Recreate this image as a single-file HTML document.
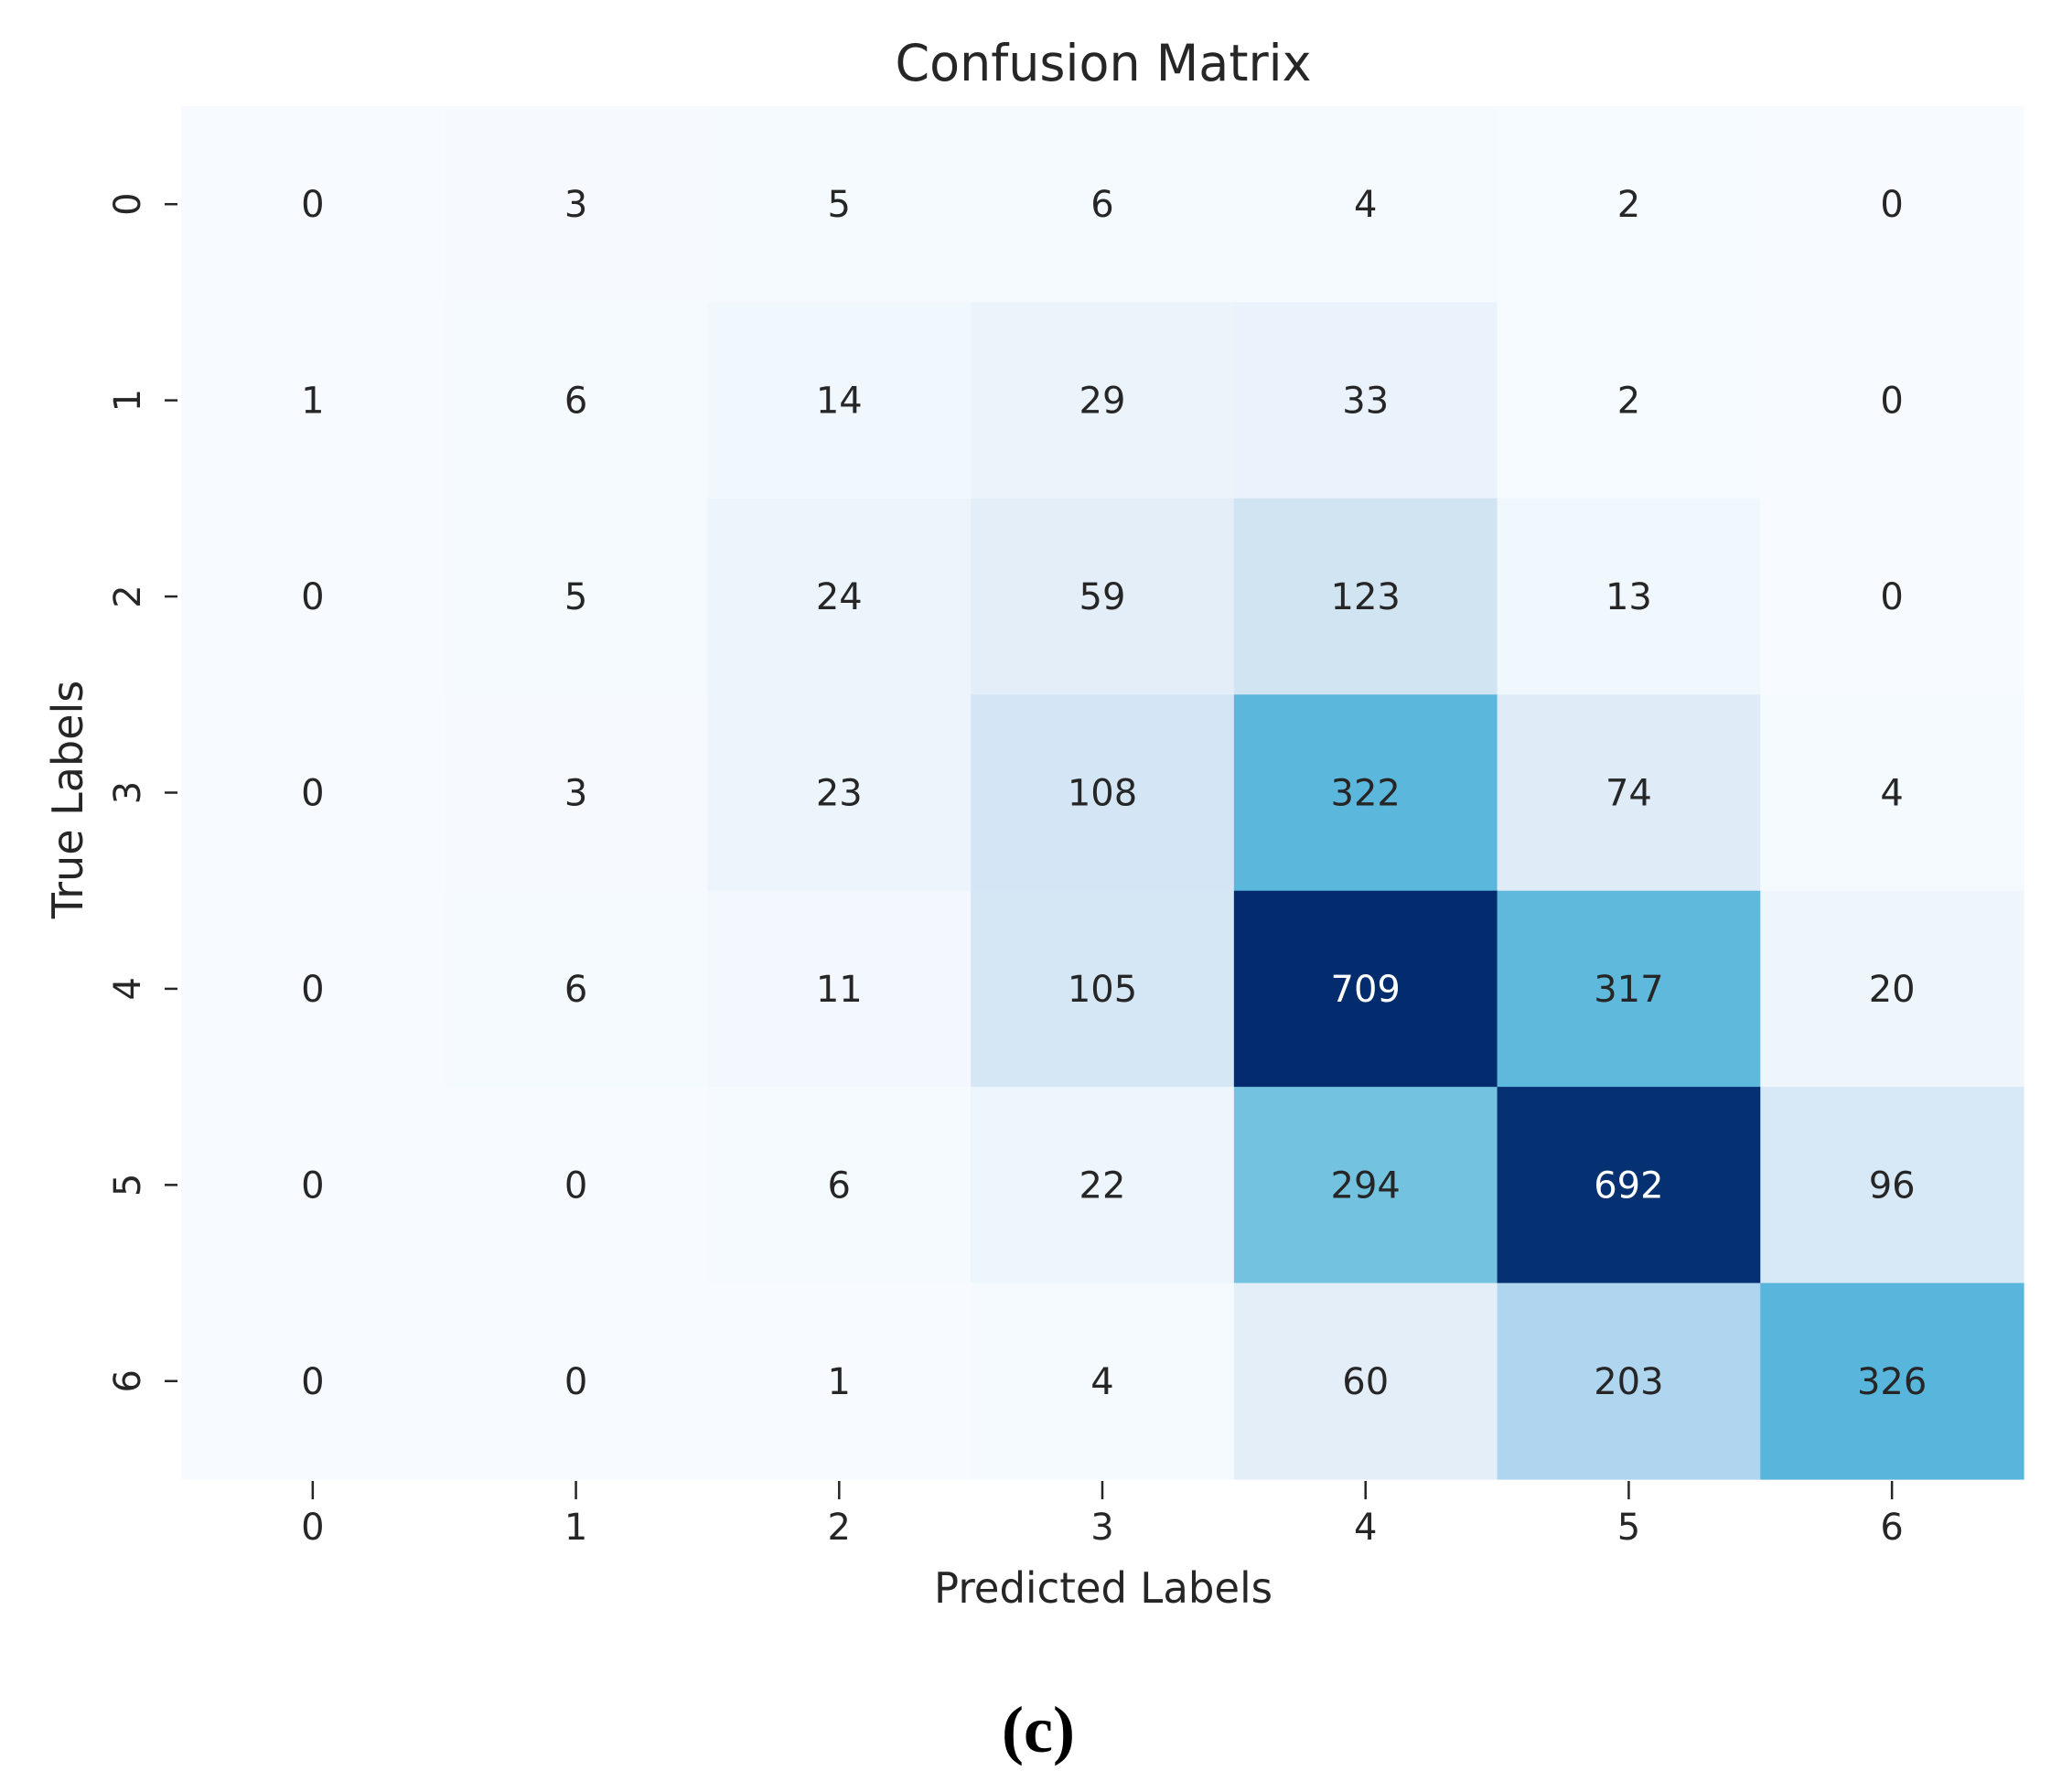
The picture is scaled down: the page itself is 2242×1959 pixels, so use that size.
<!DOCTYPE html>
<html><head><meta charset="utf-8"><style>
html,body{margin:0;padding:0;background:#fff;}
svg{display:block;}
text{font-family:"DejaVu Sans","Liberation Sans",sans-serif;fill:#262626;}
</style></head><body>
<svg id="chart" width="2242" height="1959" viewBox="0 0 2242 1959" xmlns="http://www.w3.org/2000/svg">
<text x="1206" y="88" font-size="55" text-anchor="middle" textLength="455" lengthAdjust="spacingAndGlyphs">Confusion Matrix</text>
<g id="cells"></g>
<g id="axes"></g>
<text x="1206" y="1752" font-size="46" text-anchor="middle" textLength="370" lengthAdjust="spacingAndGlyphs">Predicted Labels</text>
<text x="0" y="0" font-size="46" text-anchor="middle" transform="translate(90,874) rotate(-90)">True Labels</text>
<text x="1135" y="1915" font-size="72" font-weight="bold" text-anchor="middle" style="font-family:'Liberation Serif',serif;fill:#000">(c)</text>
</svg>
<script>
const trueLabels = ["0","1","2","3","4","5","6"];
const predLabels = ["0","1","2","3","4","5","6"];
const row0 = [0,3,5,6,4,2,0];
const row1 = [1,6,14,29,33,2,0];
const row2 = [0,5,24,59,123,13,0];
const row3 = [0,3,23,108,322,74,4];
const row4 = [0,6,11,105,709,317,20];
const row5 = [0,0,6,22,294,692,96];
const row6 = [0,0,1,4,60,203,326];
const matrix = [row0,row1,row2,row3,row4,row5,row6];

const L=198,R=2212,T=116,B=1617;
const cw=(R-L)/predLabels.length, ch=(B-T)/trueLabels.length;
function xPos(i){return L+i*cw;}
function yPos(j){return T+j*ch;}
const stops=[[0,[247,251,255]],[20,[238,246,252]],[60,[227,238,249]],[110,[211,230,245]],[125,[207,228,242]],[205,[175,213,238]],[295,[114,195,224]],[325,[88,182,220]],[420,[60,150,205]],[560,[20,80,150]],[700,[4,46,112]],[720,[0,42,107]]];
function color(v){
  for(let k=1;k<stops.length;k++){
    if(v<=stops[k][0]){const a=stops[k-1],b=stops[k];const t=(v-a[0])/(b[0]-a[0]);
      const c=a[1].map((x,i)=>Math.round(x+(b[1][i]-x)*t));return `rgb(${c[0]},${c[1]},${c[2]})`;}
  }
  const c=stops[stops.length-1][1];return `rgb(${c[0]},${c[1]},${c[2]})`;
}
const NS="http://www.w3.org/2000/svg";
const cells=document.getElementById('cells');
const axes=document.getElementById('axes');
matrix.forEach((row,j)=>{row.forEach((v,i)=>{
  const r=document.createElementNS(NS,'rect');
  r.setAttribute('x',xPos(i));r.setAttribute('y',yPos(j));
  r.setAttribute('width',cw+0.6);r.setAttribute('height',ch+0.6);
  r.setAttribute('fill',color(v));
  
  
  cells.appendChild(r);
  const t=document.createElementNS(NS,'text');
  t.setAttribute('x',xPos(i)+cw/2);t.setAttribute('y',yPos(j)+ch/2+14);
  t.setAttribute('font-size','40');t.setAttribute('text-anchor','middle');
  if(v>500)t.setAttribute('style','fill:#ffffff');
  t.textContent=v;
  
  
  cells.appendChild(t);
});});
predLabels.forEach((lab,i)=>{
  const cx=xPos(i)+cw/2;
  const ln=document.createElementNS(NS,'line');
  ln.setAttribute('x1',cx);ln.setAttribute('x2',cx);ln.setAttribute('y1',B+2);ln.setAttribute('y2',B+22);
  ln.setAttribute('stroke','#262626');ln.setAttribute('stroke-width','2.5');
  
  
  axes.appendChild(ln);
  const t=document.createElementNS(NS,'text');
  t.setAttribute('x',cx);t.setAttribute('y',1683);t.setAttribute('font-size','40');t.setAttribute('text-anchor','middle');
  t.textContent=lab;
  
  
  axes.appendChild(t);
});
trueLabels.forEach((lab,j)=>{
  const cy=yPos(j)+ch/2;
  const ln=document.createElementNS(NS,'line');
  ln.setAttribute('x1',L-18);ln.setAttribute('x2',L-4);ln.setAttribute('y1',cy);ln.setAttribute('y2',cy);
  ln.setAttribute('stroke','#262626');ln.setAttribute('stroke-width','2.5');
  
  
  axes.appendChild(ln);
  const t=document.createElementNS(NS,'text');
  t.setAttribute('x',0);t.setAttribute('y',0);t.setAttribute('font-size','40');t.setAttribute('text-anchor','middle');
  t.setAttribute('transform',`translate(153,${cy}) rotate(-90)`);
  t.textContent=lab;
  
  
  axes.appendChild(t);
});
</script>
</body></html>
